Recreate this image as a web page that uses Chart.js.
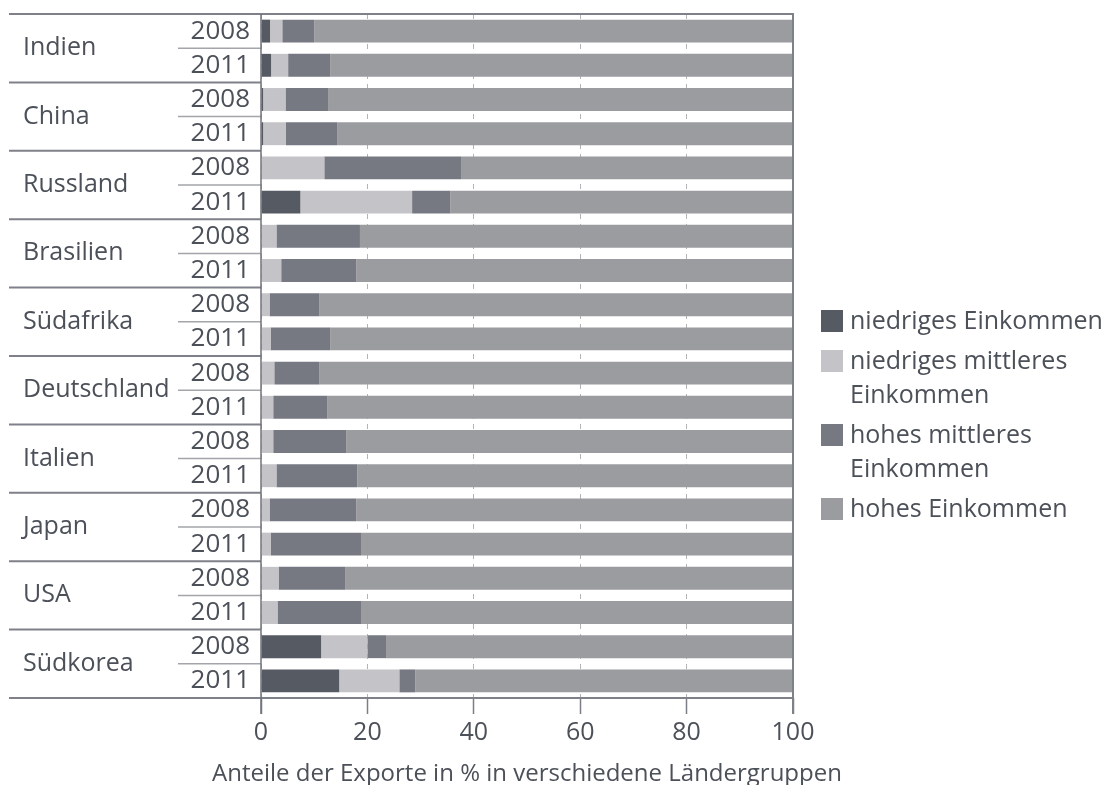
<!DOCTYPE html>
<html lang="de">
<head>
<meta charset="utf-8">
<script src="https://cdn.jsdelivr.net/npm/chart.js@4.4.1/dist/chart.umd.min.js"></script>
<style>
  html, body { margin: 0; padding: 0; background: #fff; }
  #wrap { width: 1105px; height: 785px; }
</style>
</head>
<body>
<div id="wrap"><canvas id="c" width="1105" height="785"></canvas></div>
<script>
// Export shares (%) by destination income group, per country and year
const countries = ['Indien', 'China', 'Russland', 'Brasilien', 'Südafrika', 'Deutschland', 'Italien', 'Japan', 'USA', 'Südkorea'];
const years = ['2008', '2011'];

// one value per row: Indien 2008, Indien 2011, China 2008, ...
const niedrig        = [1.7, 1.9, 0.4, 0.4, 0.0, 7.4, 0.0, 0.0, 0.0, 0.0, 0.0, 0.0, 0.0, 0.0, 0.0, 0.0, 0.0, 0.0, 11.3, 14.7];
const niedrigMittel  = [2.3, 3.2, 4.2, 4.3, 11.9, 21.0, 2.9, 3.8, 1.6, 1.8, 2.5, 2.3, 2.3, 2.9, 1.6, 1.8, 3.3, 3.1, 8.7, 11.3];
const hochMittel     = [6.0, 7.9, 8.0, 9.6, 25.7, 7.2, 15.7, 14.1, 9.4, 11.2, 8.5, 10.2, 13.7, 15.2, 16.3, 17.0, 12.5, 15.7, 3.5, 3.0];
const hoch           = [90.0, 87.0, 87.4, 85.7, 62.4, 64.4, 81.4, 82.1, 89.0, 87.0, 89.0, 87.5, 84.0, 81.9, 82.1, 81.2, 84.2, 81.2, 76.5, 71.0];

const seriesNames = [
  ['niedriges Einkommen'],
  ['niedriges mittleres', 'Einkommen'],
  ['hohes mittleres', 'Einkommen'],
  ['hohes Einkommen']
];
const seriesColors = ['#565a63', '#c4c4c8', '#767982', '#9b9ca0'];

const xTicks = [0, 20, 40, 60, 80, 100];
const axisTitle = 'Anteile der Exporte in % in verschiedene Ländergruppen';

const rowLabels = [];
countries.forEach(() => years.forEach(y => rowLabels.push(y)));

const FONT = '"Open Sans", "Noto Sans", sans-serif';
const TEXT = '#4c5058';

// Country names, row separators, frame lines, axis title and the legend
const framePlugin = {
  id: 'framePlugin',
  afterDatasetsDraw(chart) {
    const { ctx, chartArea: a, scales: { y, x } } = chart;
    const step = y.getPixelForValue(1) - y.getPixelForValue(0);
    const half = step / 2;
    ctx.save();

    // separators between the two years of a country
    ctx.strokeStyle = '#a3a5aa';
    ctx.lineWidth = 1.5;
    countries.forEach((c, i) => {
      const yy = y.getPixelForValue(i * 2) + half;
      ctx.beginPath();
      ctx.moveTo(178, yy);
      ctx.lineTo(a.left, yy);
      ctx.stroke();
    });

    // separators between countries, plus top and bottom edges
    ctx.strokeStyle = '#7e8189';
    ctx.lineWidth = 2;
    for (let i = 0; i <= countries.length; i++) {
      const yy = y.getPixelForValue(i * 2) - half;
      const right = (i === 0 || i === countries.length) ? x.getPixelForValue(100) + 1 : a.left;
      ctx.beginPath();
      ctx.moveTo(9, yy);
      ctx.lineTo(right, yy);
      ctx.stroke();
    }

    // left axis and right edge
    ctx.strokeStyle = '#70737b';
    ctx.lineWidth = 1.5;
    ctx.beginPath();
    ctx.moveTo(a.left, a.top);
    ctx.lineTo(a.left, a.bottom + 16);
    ctx.stroke();
    ctx.strokeStyle = '#7e8189';
    ctx.lineWidth = 2;
    ctx.beginPath();
    ctx.moveTo(x.getPixelForValue(100), a.top);
    ctx.lineTo(x.getPixelForValue(100), a.bottom + 16);
    ctx.stroke();

    // country names
    ctx.fillStyle = TEXT;
    ctx.font = '25px ' + FONT;
    ctx.textAlign = 'left';
    ctx.textBaseline = 'alphabetic';
    countries.forEach((c, i) => {
      const yy = y.getPixelForValue(i * 2) + half;
      ctx.fillText(c, 23, yy + 7);
    });

    // axis title, centred under the plot area
    ctx.font = '24px ' + FONT;
    ctx.textAlign = 'center';
    ctx.fillText(axisTitle, (a.left + a.right) / 2, a.bottom + 83);

    // legend
    ctx.textAlign = 'left';
    const lx = a.right + 28;
    let ly = a.top + 307;
    ctx.font = '25px ' + FONT;
    seriesNames.forEach((lines, i) => {
      ctx.fillStyle = seriesColors[i];
      ctx.fillRect(lx, ly - 11, 22, 22);
      ctx.fillStyle = TEXT;
      lines.forEach((t, j) => {
        ctx.fillText(t, lx + 29, ly + 8 + j * 34);
      });
      ly += (lines.length - 1) * 34 + 40;
    });

    ctx.restore();
  }
};

const datasets = [niedrig, niedrigMittel, hochMittel, hoch].map((d, i) => ({
  label: seriesNames[i].join(' '),
  data: d,
  backgroundColor: seriesColors[i],
  borderWidth: 0,
  barPercentage: 0.67,
  categoryPercentage: 1.0
}));

new Chart(document.getElementById('c'), {
  type: 'bar',
  data: { labels: rowLabels, datasets },
  options: {
    indexAxis: 'y',
    responsive: false,
    animation: false,
    layout: { padding: { top: 14, right: 312, bottom: 33, left: 0 } },
    plugins: { legend: { display: false }, tooltip: { enabled: false } },
    scales: {
      x: {
        stacked: true,
        min: 0,
        max: 100,
        afterBuildTicks(scale) { scale.ticks = xTicks.map(v => ({ value: v })); },
        border: { display: false, dash: [5, 5] },
        grid: {
          color: '#b3b4b8',
          lineWidth: 1,
          drawTicks: true,
          tickLength: 16,
          tickColor: '#7b7e86',
          tickWidth: 1.5,
          tickBorderDash: []
        },
        ticks: {
          padding: 4,
          color: TEXT,
          font: { family: FONT, size: 25 }
        },
        title: { display: false }
      },
      y: {
        stacked: true,
        afterFit(scale) {
          scale.width = 261;
          scale.paddingTop = 0;
          scale.paddingBottom = 0;
        },
        border: { display: false },
        grid: { display: false, drawTicks: false },
        ticks: {
          padding: 11,
          color: TEXT,
          font: { family: FONT, size: 26 },
          autoSkip: false
        }
      }
    }
  },
  plugins: [framePlugin]
});
</script>
</body>
</html>
